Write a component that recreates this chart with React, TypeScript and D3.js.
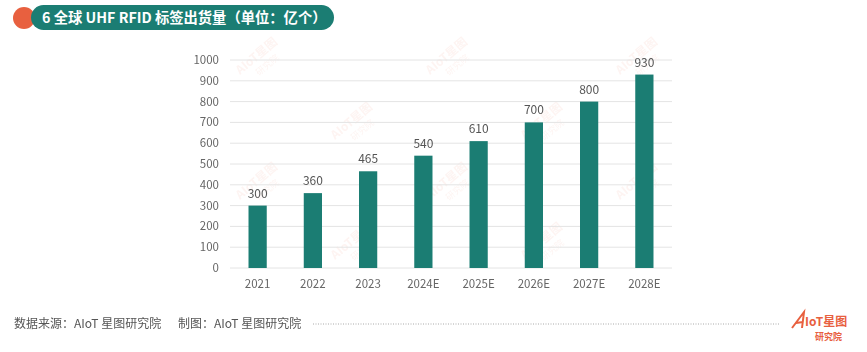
import * as React from 'react'
import { useEffect, useRef } from 'react'
import * as d3 from 'd3'

const years = ['2021', '2022', '2023', '2024E', '2025E', '2026E', '2027E', '2028E']
const shipments = [300, 360, 465, 540, 610, 700, 800, 930]
const yTicks = [0, 100, 200, 300, 400, 500, 600, 700, 800, 900, 1000]

const WIDTH = 867
const HEIGHT = 352
const TEAL = '#1b7d73'
const ORANGE = '#e8603f'
const FONT = '"Noto Sans CJK SC", "Noto Sans", sans-serif'

export default function App() {
  const svgRef = useRef<SVGSVGElement>(null)

  useEffect(() => {
    if (!svgRef.current) return
    const svg = d3.select(svgRef.current)
    svg.selectAll('*').remove()

    // Title banner
    svg.append('circle').attr('cx', 24).attr('cy', 18).attr('r', 11).attr('fill', ORANGE)
    svg.append('rect')
      .attr('x', 31).attr('y', 5).attr('width', 303).attr('height', 25).attr('rx', 12.5)
      .attr('fill', TEAL)
    svg.append('text')
      .attr('x', 42).attr('y', 23)
      .attr('font-family', FONT).attr('font-size', 14.3).attr('font-weight', 700)
      .attr('fill', '#fff')
      .text('6 全球 UHF RFID 标签出货量（单位：亿个）')

    const x = d3.scaleBand().domain(years).range([230, 672]).paddingInner(0.67).paddingOuter(0.335)
    const y = d3.scaleLinear().domain([0, 1000]).range([268, 60])

    // Watermarks
    const marks = [[240, 75], [430, 75], [620, 75], [240, 200], [430, 200], [620, 200], [335, 140], [525, 140], [335, 260], [525, 260]]
    const wm = svg.append('g').attr('opacity', 0.07)
    marks.forEach(([mx, my]) => {
      const g = wm.append('g').attr('transform', `translate(${mx},${my}) rotate(-40)`)
      g.append('text').attr('font-family', FONT).attr('font-size', 12).attr('font-weight', 700)
        .attr('fill', ORANGE).text('AIoT星图')
      g.append('text').attr('x', 14).attr('y', 13).attr('font-family', FONT).attr('font-size', 9)
        .attr('fill', ORANGE).text('研究院')
    })

    // Grid
    const grid = svg.append('g')
    grid.selectAll('line').data(yTicks).join('line')
      .attr('x1', 230).attr('x2', 672)
      .attr('y1', d => y(d)).attr('y2', d => y(d))
      .attr('stroke', '#e4e4e4').attr('stroke-width', 1)

    grid.selectAll('text').data(yTicks).join('text')
      .attr('x', 219).attr('y', d => y(d) + 4)
      .attr('text-anchor', 'end')
      .attr('font-family', FONT).attr('font-size', 11.5).attr('fill', '#666')
      .text(d => d)

    // Bars
    const bars = svg.append('g')
    bars.selectAll('rect').data(shipments).join('rect')
      .attr('x', (_, i) => x(years[i])!)
      .attr('width', x.bandwidth())
      .attr('y', d => y(d))
      .attr('height', d => y(0) - y(d))
      .attr('fill', TEAL)

    bars.selectAll('text').data(shipments).join('text')
      .attr('x', (_, i) => x(years[i])! + x.bandwidth() / 2)
      .attr('y', d => y(d) - 8)
      .attr('text-anchor', 'middle')
      .attr('font-family', FONT).attr('font-size', 12).attr('fill', '#555')
      .text(d => d)

    svg.append('g').selectAll('text').data(years).join('text')
      .attr('x', d => x(d)! + x.bandwidth() / 2)
      .attr('y', 288)
      .attr('text-anchor', 'middle')
      .attr('font-family', FONT).attr('font-size', 11.5).attr('fill', '#666')
      .text(d => d)

    // Footer
    svg.append('text')
      .attr('x', 14).attr('y', 328)
      .attr('font-family', FONT).attr('font-size', 12).attr('fill', '#555')
      .text('数据来源：AIoT 星图研究院')
    svg.append('text')
      .attr('x', 178).attr('y', 328)
      .attr('font-family', FONT).attr('font-size', 12).attr('fill', '#555')
      .text('制图：AIoT 星图研究院')
    svg.append('line')
      .attr('x1', 313).attr('x2', 780).attr('y1', 324).attr('y2', 324)
      .attr('stroke', '#aaa').attr('stroke-width', 1).attr('stroke-dasharray', '1,1.5')

    const logo = svg.append('g').attr('transform', 'translate(792,312)')
    logo.append('path').attr('d', 'M0,16 L12,0 L10,16 M4,11 L11,10').attr('fill', 'none')
      .attr('stroke', ORANGE).attr('stroke-width', 2)
    logo.append('text').attr('x', 13).attr('y', 14).attr('font-family', FONT).attr('font-size', 12)
      .attr('font-weight', 700).attr('fill', ORANGE).text('IoT星图')
    logo.append('text').attr('x', 23).attr('y', 28).attr('font-family', FONT).attr('font-size', 9)
      .attr('font-weight', 700).attr('fill', ORANGE).text('研究院')
  }, [])

  return (
    <div style={{ position: 'fixed', left: 0, top: 0 }}>
      <svg ref={svgRef} width={WIDTH} height={HEIGHT} style={{ display: 'block', background: '#fff' }} />
    </div>
  )
}
